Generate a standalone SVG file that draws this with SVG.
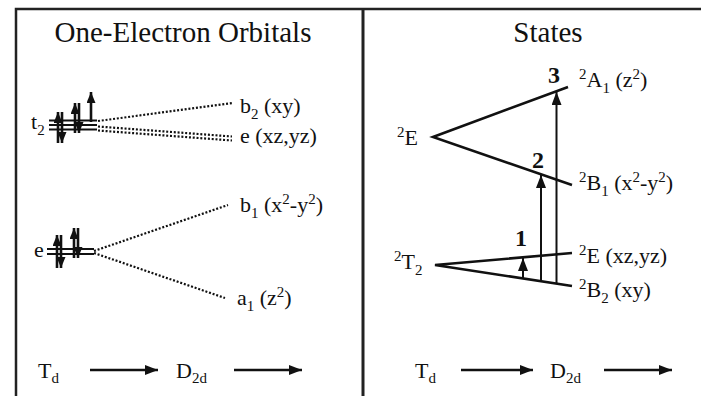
<svg xmlns="http://www.w3.org/2000/svg" width="701" height="396" viewBox="0 0 701 396">
<defs>
<marker id="ah" markerUnits="userSpaceOnUse" markerWidth="14" markerHeight="12" refX="13" refY="5" orient="auto"><path d="M0,0 L13,5 L0,10 Z" fill="#111"/></marker>
<marker id="eh" markerUnits="userSpaceOnUse" markerWidth="13" markerHeight="10" refX="11" refY="4.5" orient="auto"><path d="M0,0 L11,4.5 L0,9 Z" fill="#111"/></marker>
</defs>
<style>
text{font-family:"Liberation Serif","Times New Roman",serif;fill:#111}
.t{font-size:29px}
.l{font-size:22px}
.s{font-size:15px}
.n{font-size:24px;font-weight:bold}
.frame{stroke:#222;stroke-width:2.5;fill:none}
.lvl{stroke:#111;stroke-width:2}
.dot{stroke:#111;stroke-width:2.2;stroke-dasharray:2,1.8;fill:none}
.st{stroke:#111;stroke-width:2.6;fill:none}
.va{stroke:#111;stroke-width:2;marker-end:url(#ah)}
.el{stroke:#111;stroke-width:2.6;marker-end:url(#eh)}
.ba{stroke:#111;stroke-width:2.5;marker-end:url(#ah)}
</style>
<rect width="701" height="396" fill="#fff"/>
<g id="frame">
<path class="frame" d="M16,396 V9 H701"/>
<path d="M363,9 V396" stroke="#222" stroke-width="3"/>
</g>
<g id="title-left"><text class="t" x="183" y="42" text-anchor="middle">One-Electron Orbitals</text></g>
<g id="title-right"><text class="t" x="548" y="42" text-anchor="middle">States</text></g>

<g id="t2-level">
<text class="l" x="31" y="129">t<tspan class="s" y="135">2</tspan></text>
<path class="lvl" d="M49,120.5 H97 M49,125 H97 M49,129.5 H97"/>
<path class="el" d="M58,143 V112"/>
<path class="el" d="M62,112 V143"/>
<path class="el" d="M75,133 V103"/>
<path class="el" d="M79,103 V133"/>
<path class="el" d="M91,122 V92"/>
</g>
<g id="e-level">
<text class="l" x="34" y="257">e</text>
<path class="lvl" d="M47,249 H94 M47,254 H94"/>
<path class="el" d="M57,268 V235"/>
<path class="el" d="M61,235 V268"/>
<path class="el" d="M74,258 V228"/>
<path class="el" d="M78,228 V258"/>
</g>
<g id="orbital-labels">
<text class="l" x="240" y="113">b<tspan class="s" y="119">2</tspan><tspan y="113"> (xy)</tspan></text>
<text class="l" x="240" y="143">e (xz,yz)</text>
<text class="l" x="240" y="212">b<tspan class="s" y="218">1</tspan><tspan y="212"> (x</tspan><tspan class="s" y="204">2</tspan><tspan y="212">-y</tspan><tspan class="s" y="204">2</tspan><tspan y="212">)</tspan></text>
<text class="l" x="237" y="305">a<tspan class="s" y="311">1</tspan><tspan y="305"> (z</tspan><tspan class="s" y="297">2</tspan><tspan y="305">)</tspan></text>
</g>

<g id="state-labels">
<text class="l" x="397" y="145"><tspan class="s" y="137">2</tspan><tspan y="145">E</tspan></text>
<text class="l" x="394" y="269"><tspan class="s" y="261">2</tspan><tspan y="269">T</tspan><tspan class="s" y="275">2</tspan></text>
<text class="l" x="579" y="87"><tspan class="s" y="79">2</tspan><tspan y="87">A</tspan><tspan class="s" y="93">1</tspan><tspan y="87"> (z</tspan><tspan class="s" y="79">2</tspan><tspan y="87">)</tspan></text>
<text class="l" x="579" y="190"><tspan class="s" y="182">2</tspan><tspan y="190">B</tspan><tspan class="s" y="196">1</tspan><tspan y="190"> (x</tspan><tspan class="s" y="182">2</tspan><tspan y="190">-y</tspan><tspan class="s" y="182">2</tspan><tspan y="190">)</tspan></text>
<text class="l" x="579" y="263"><tspan class="s" y="255">2</tspan><tspan y="263">E (xz,yz)</tspan></text>
<text class="l" x="579" y="297"><tspan class="s" y="289">2</tspan><tspan y="297">B</tspan><tspan class="s" y="303">2</tspan><tspan y="297"> (xy)</tspan></text>
<text class="n" x="548" y="83">3</text>
<text class="n" x="532" y="168">2</text>
<text class="n" x="515" y="246">1</text>
</g>

<g id="connectors">
<path class="dot" d="M98,121 L233,103"/>
<path class="dot" d="M98,126.5 L232,136.5"/>
<path class="dot" d="M98,130.5 L232,140.5"/>
<path class="dot" d="M94,251 L228,205"/>
<path class="dot" d="M94,253 L225,298"/>
<path class="st" d="M568,87 L433,137 L572,185"/>
<path class="st" d="M572,253 L435,265 L572,286"/>
<path class="va" d="M556.5,283.5 V92"/>
<path class="va" d="M541,281.5 V175"/>
<path class="va" d="M523,278.5 V258"/>
</g>

<g id="bottom-left">
<text class="l" x="38" y="378">T<tspan class="s" y="383">d</tspan></text>
<path class="ba" d="M90,370 H158"/>
<text class="l" x="176" y="378">D<tspan class="s" y="383">2d</tspan></text>
<path class="ba" d="M234,370 H302"/>
</g>
<g id="bottom-right">
<text class="l" x="415" y="378">T<tspan class="s" y="383">d</tspan></text>
<path class="ba" d="M461,370 H533"/>
<text class="l" x="550" y="378">D<tspan class="s" y="383">2d</tspan></text>
<path class="ba" d="M604,370 H672"/>
</g>
</svg>
